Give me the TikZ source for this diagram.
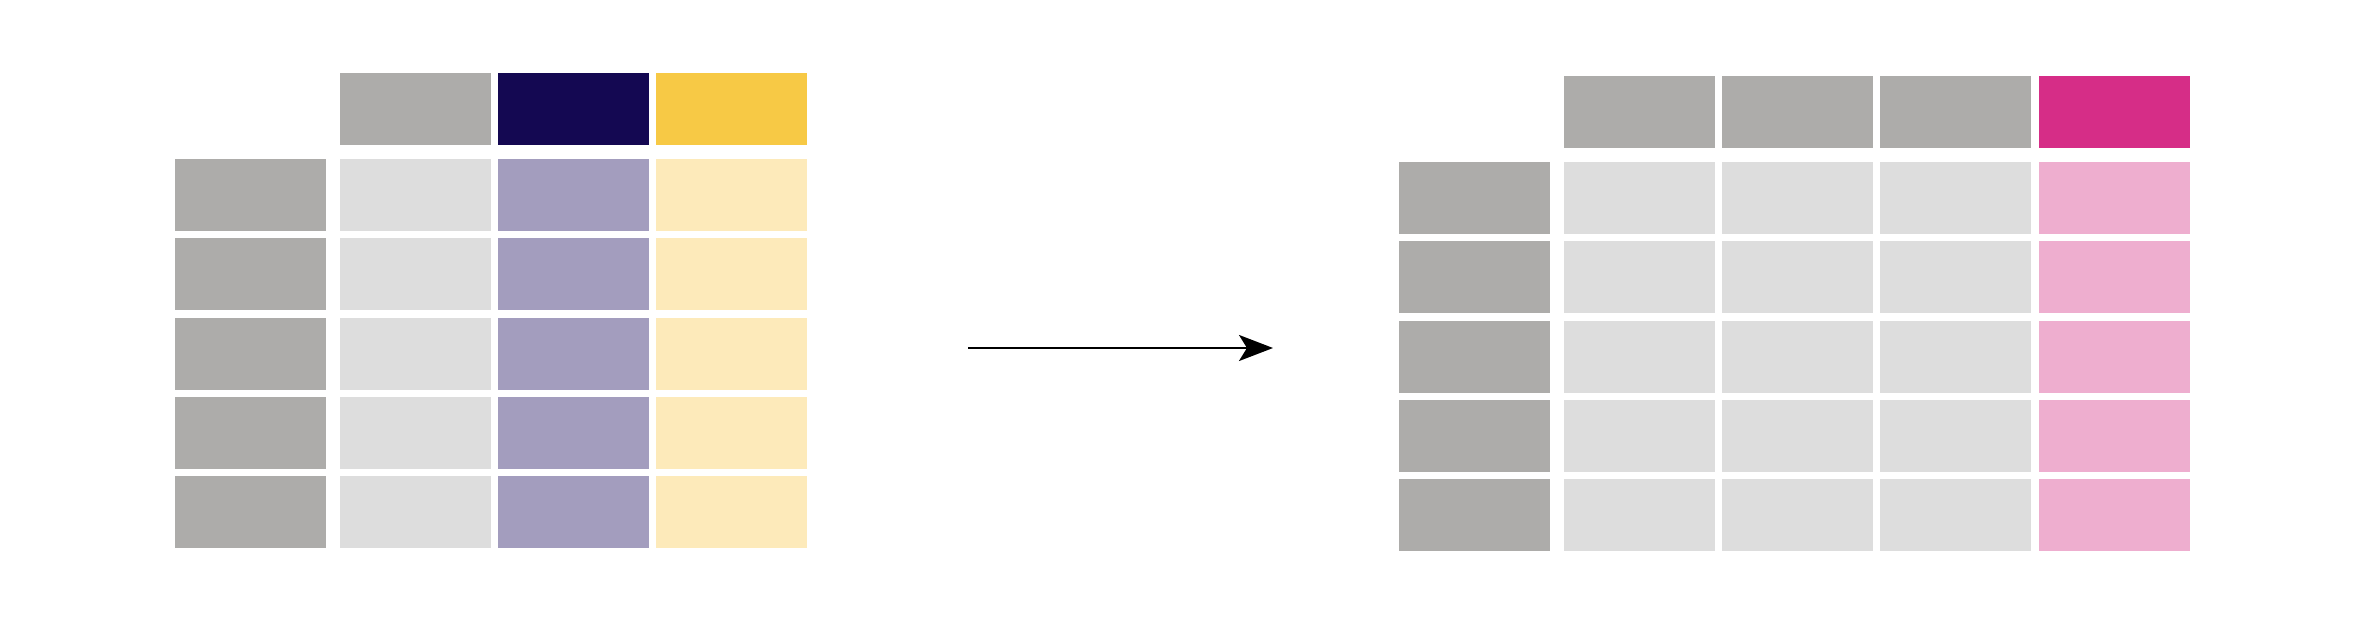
\documentclass[tikz,border=0pt]{standalone}
\usetikzlibrary{arrows.meta}
\definecolor{idgray}{HTML}{ADACAA}
\definecolor{cellgray}{HTML}{DDDDDD}
\definecolor{navy}{HTML}{140852}
\definecolor{lilac}{HTML}{A39DBE}
\definecolor{gold}{HTML}{F7C945}
\definecolor{cream}{HTML}{FDEABA}
\definecolor{magenta}{HTML}{D62D87}
\definecolor{pink}{HTML}{EEAECF}
\tikzset{
  cell/.style={rectangle, inner sep=0pt, outer sep=0pt, minimum width=75.5pt, minimum height=36pt, anchor=north west},
  conn/.style={line width=1.2pt, -{Stealth[length=17pt,width=13pt,inset=4pt]}}
}
\begin{document}
\begin{tikzpicture}[x=0.5pt,y=-0.5pt]
\useasboundingbox (0,0) rectangle (2360,636);
% left table
\node[cell, fill=idgray] (Lh1) at (340,73) {};
\node[cell, fill=navy] (Lh2) at (498,73) {};
\node[cell, fill=gold] (Lh3) at (656,73) {};
\foreach \r/\y in {1/159,2/238,3/317.5,4/397,5/476} {
  \node[cell, fill=idgray] (Li\r) at (175,\y) {};
  \node[cell, fill=cellgray] (La\r) at (340,\y) {};
  \node[cell, fill=lilac] (Lb\r) at (498,\y) {};
  \node[cell, fill=cream] (Lc\r) at (656,\y) {};
}
% right table
\node[cell, fill=idgray] (Rh1) at (1564,76) {};
\node[cell, fill=idgray] (Rh2) at (1722,76) {};
\node[cell, fill=idgray] (Rh3) at (1880,76) {};
\node[cell, fill=magenta] (Rh4) at (2039,76) {};
\foreach \r/\y in {1/162,2/241,3/320.5,4/400,5/479} {
  \node[cell, fill=idgray] (Ri\r) at (1399,\y) {};
  \node[cell, fill=cellgray] (Ra\r) at (1564,\y) {};
  \node[cell, fill=cellgray] (Rb\r) at (1722,\y) {};
  \node[cell, fill=cellgray] (Rc\r) at (1880,\y) {};
  \node[cell, fill=pink] (Rd\r) at (2039,\y) {};
}
% arrow
\coordinate (astart) at (968,348);
\coordinate (aend) at (1273,348);
\draw[conn] (astart) -- (aend);
\end{tikzpicture}
\end{document}
